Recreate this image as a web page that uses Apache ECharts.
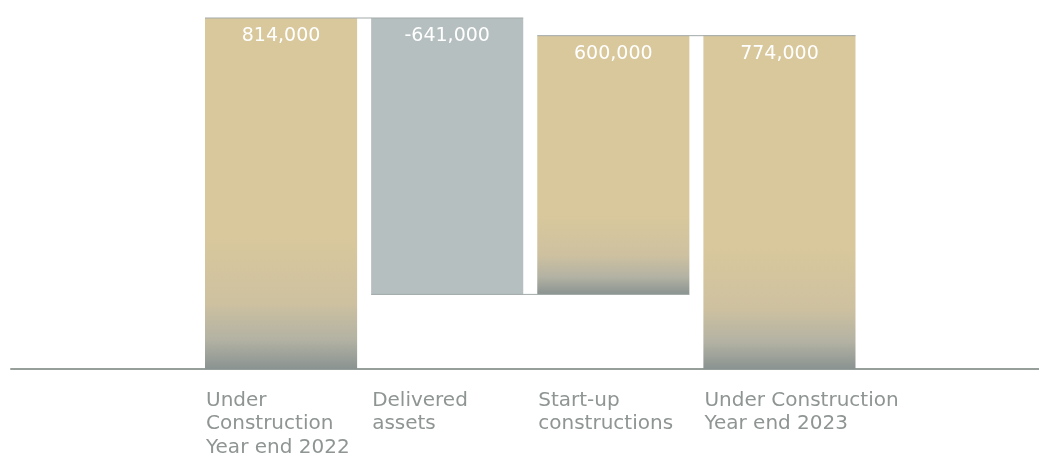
<!DOCTYPE html>
<html>
<head>
<meta charset="utf-8">
<script src="https://cdn.jsdelivr.net/npm/echarts@6/dist/echarts.min.js"></script>
<style>
  html, body { margin: 0; padding: 0; background: #ffffff; }
  #chart { width: 1039px; height: 457px; }
</style>
</head>
<body>
<div id="chart"></div>
<script>
// Waterfall of assets under construction (sq m)
const categories = [
  'Under\nConstruction\nYear end 2022',
  'Delivered\nassets',
  'Start-up\nconstructions',
  'Under Construction\nYear end 2023'
];
const changes = [814000, -641000, 600000, 774000];
const kinds = ['total', 'delta', 'delta', 'total'];

// Derive floating bar offsets and heights from the running total
const bases = [];
const heights = [];
const levels = [];
let running = 0;
changes.forEach(function (v, i) {
  if (kinds[i] === 'total') {
    bases.push(0);
    heights.push(v);
    running = v;
  } else {
    bases.push(v < 0 ? running + v : running);
    heights.push(Math.abs(v));
    running += v;
  }
  levels.push(running);
});

const BAR_RATIO = 152 / 166;
const TAN = '#d9c89c';
const DECREASE = '#b6bfc0';

// Sand colour that greys out towards the foot of the bar;
// shorter bars keep a proportionally shorter grey foot.
function fade(h) {
  const span = 0.38 * Math.pow(h / changes[0], 0.7);
  const start = 1 - span;
  return {
    type: 'linear', x: 0, y: 0, x2: 0, y2: 1,
    colorStops: [
      { offset: 0, color: TAN },
      { offset: start, color: TAN },
      { offset: start + span * 0.5, color: '#cec1a0' },
      { offset: start + span * 0.78, color: '#b3b2a3' },
      { offset: 1, color: '#8a9391' }
    ]
  };
}

const fmt = function (n) {
  return (n < 0 ? '-' : '') + Math.abs(n).toLocaleString('en-US');
};

const chart = echarts.init(document.getElementById('chart'), null, { renderer: 'canvas' });

chart.setOption({
  animation: false,
  grid: [
    { left: 198, right: 176.5, top: 18, bottom: 88 },
    { left: 11, right: 0, top: 18, bottom: 88 }
  ],
  xAxis: [
    {
      type: 'category', gridIndex: 0, data: categories,
      axisLine: { show: false }, axisTick: { show: false }, axisLabel: { show: false }
    },
    {
      type: 'category', gridIndex: 1, data: [''],
      axisLine: { show: true, lineStyle: { color: '#979f9b', width: 2 } },
      axisTick: { show: false }, axisLabel: { show: false }
    }
  ],
  yAxis: [
    { type: 'value', gridIndex: 0, min: 0, max: changes[0], show: false, splitLine: { show: false } },
    { type: 'value', gridIndex: 1, min: 0, max: 1, show: false, splitLine: { show: false } }
  ],
  series: [
    {
      type: 'bar', stack: 'fall', xAxisIndex: 0, yAxisIndex: 0,
      barWidth: (BAR_RATIO * 100) + '%',
      itemStyle: { color: 'transparent' },
      silent: true,
      data: bases
    },
    {
      type: 'bar', stack: 'fall', xAxisIndex: 0, yAxisIndex: 0,
      barWidth: (BAR_RATIO * 100) + '%',
      data: heights.map(function (h, i) {
        return {
          value: h,
          itemStyle: { color: changes[i] < 0 ? DECREASE : fade(h) }
        };
      }),
      label: {
        show: true,
        position: 'insideTop',
        distance: 9,
        color: '#ffffff',
        fontFamily: 'DejaVu Sans',
        fontSize: 19,
        formatter: function (p) { return fmt(changes[p.dataIndex]); }
      }
    },
    {
      // thin connectors joining each bar's end to the next bar
      type: 'custom', xAxisIndex: 0, yAxisIndex: 0, z: 5, silent: true,
      data: levels.slice(0, levels.length - 1).map(function (lv, i) { return [i, lv]; }),
      renderItem: function (params, api) {
        const p = api.coord([api.value(0), api.value(1)]);
        const step = api.size([1, 0])[0];
        const bw = step * BAR_RATIO;
        return {
          type: 'line',
          shape: { x1: p[0] - bw / 2, y1: p[1], x2: p[0] + step + bw / 2, y2: p[1] },
          style: { stroke: '#a1a9a8', lineWidth: 1 }
        };
      }
    },
    {
      // category names, left-aligned under each bar
      type: 'custom', xAxisIndex: 0, yAxisIndex: 0, silent: true,
      data: categories.map(function (c, i) { return [i, 0]; }),
      renderItem: function (params, api) {
        const i = api.value(0);
        const p = api.coord([i, 0]);
        const bw = api.size([1, 0])[0] * BAR_RATIO;
        return {
          type: 'text',
          x: p[0] - bw / 2 + 1,
          y: p[1] + 20,
          style: {
            text: categories[i],
            fill: '#8e9592',
            fontFamily: 'DejaVu Sans',
            fontSize: 20,
            lineHeight: 23.5,
            align: 'left',
            verticalAlign: 'top'
          }
        };
      }
    }
  ]
});
</script>
</body>
</html>
